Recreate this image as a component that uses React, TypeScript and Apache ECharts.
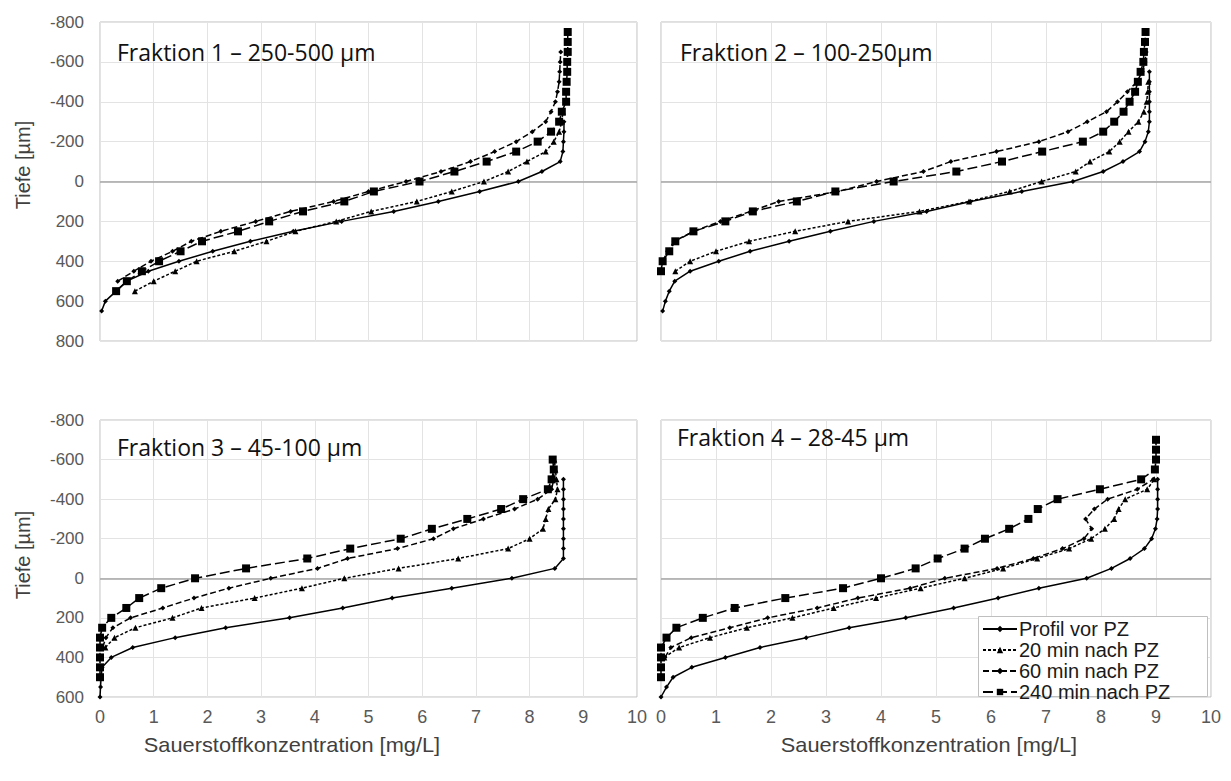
import React, { useEffect, useRef } from "react";
import * as echarts from "echarts";

// ---------- data: [Sauerstoffkonzentration mg/L, Tiefe µm] ----------
const seriesNames = ["Profil vor PZ", "20 min nach PZ", "60 min nach PZ", "240 min nach PZ"];
const panelTitles = ["Fraktion 1 – 250-500 µm", "Fraktion 2 – 100-250µm", "Fraktion 3 – 45-100 µm", "Fraktion 4 – 28-45 µm"];
const xTitle = "Sauerstoffkonzentration [mg/L]";
const yTitle = "Tiefe [µm]";

const f1Profil = [[0.03,650],[0.1,600],[0.3,550],[0.5,500],[0.9,450],[1.47,400],[2.1,350],[2.8,300],[3.6,250],[4.5,200],[5.47,150],[6.3,100],[7.07,50],[7.79,0],[8.23,-50],[8.57,-100],[8.62,-150],[8.63,-200],[8.64,-250],[8.64,-300]];
const f1Min20 = [[0.65,550],[1.0,500],[1.4,450],[1.8,400],[2.5,350],[3.1,300],[3.64,250],[4.4,200],[5.05,150],[5.9,100],[6.55,50],[7.15,0],[7.6,-50],[7.95,-100],[8.3,-150],[8.45,-200],[8.55,-250],[8.6,-300],[8.62,-350]];
const f1Min60 = [[0.33,500],[0.63,450],[0.95,400],[1.35,350],[1.7,300],[2.25,250],[2.9,200],[3.55,150],[4.35,100],[5.0,50],[5.7,0],[6.35,-50],[6.9,-100],[7.35,-150],[7.75,-200],[8.05,-250],[8.3,-300],[8.4,-350],[8.48,-400],[8.52,-450],[8.55,-500],[8.56,-550],[8.57,-600],[8.58,-650]];
const f1Min240 = [[0.3,550],[0.5,500],[0.78,450],[1.1,400],[1.5,350],[1.9,300],[2.57,250],[3.15,200],[3.78,150],[4.55,100],[5.1,50],[5.95,0],[6.6,-50],[7.2,-100],[7.75,-150],[8.15,-200],[8.4,-250],[8.55,-300],[8.6,-350],[8.68,-400],[8.68,-450],[8.69,-500],[8.7,-550],[8.7,-600],[8.71,-650],[8.71,-700],[8.71,-750]];

const f2Profil = [[0.03,650],[0.08,600],[0.15,550],[0.25,500],[0.53,450],[1.05,400],[1.62,350],[2.33,300],[3.08,250],[3.87,200],[4.83,150],[5.63,100],[6.56,50],[7.49,0],[8.04,-50],[8.4,-100],[8.7,-150],[8.8,-200],[8.86,-250],[8.88,-300],[8.88,-350],[8.88,-400],[8.88,-450],[8.88,-500],[8.88,-550]];
const f2Min20 = [[0.26,450],[0.53,400],[1.0,350],[1.6,300],[2.44,250],[3.4,200],[4.7,150],[5.6,100],[6.34,50],[6.92,0],[7.54,-50],[7.8,-100],[8.15,-150],[8.34,-200],[8.5,-250],[8.68,-300],[8.78,-350],[8.83,-400],[8.85,-450],[8.86,-500]];
const f2Min60 = [[0.03,400],[0.12,350],[0.24,300],[0.59,250],[1.08,200],[1.63,150],[2.14,100],[3.21,50],[3.92,0],[4.77,-50],[5.27,-100],[6.1,-150],[6.87,-200],[7.4,-250],[7.75,-300],[8.1,-350],[8.3,-400],[8.48,-450],[8.65,-500],[8.75,-550],[8.8,-600],[8.82,-650]];
const f2Min240 = [[0,450],[0.03,400],[0.15,350],[0.26,300],[0.59,250],[1.17,200],[1.67,150],[2.47,100],[3.17,50],[4.23,0],[5.37,-50],[6.2,-100],[6.93,-150],[7.67,-200],[8.04,-250],[8.24,-300],[8.41,-350],[8.52,-400],[8.62,-450],[8.67,-500],[8.72,-550],[8.77,-600],[8.78,-650],[8.8,-700],[8.81,-750]];

const f3Profil = [[0,600],[0.01,550],[0.02,500],[0.04,450],[0.21,400],[0.61,350],[1.4,300],[2.34,250],[3.53,200],[4.52,150],[5.44,100],[6.55,50],[7.67,0],[8.47,-50],[8.63,-100],[8.63,-150],[8.63,-200],[8.63,-250],[8.63,-300],[8.63,-350],[8.63,-400],[8.63,-450],[8.63,-500]];
const f3Min20 = [[0.1,350],[0.27,300],[0.66,250],[1.35,200],[1.89,150],[2.88,100],[3.76,50],[4.55,0],[5.56,-50],[6.67,-100],[7.6,-150],[8.0,-200],[8.25,-250],[8.3,-300],[8.35,-350],[8.48,-400],[8.52,-450],[8.5,-500],[8.48,-550],[8.46,-600]];
const f3Min60 = [[0.05,350],[0.11,300],[0.24,250],[0.57,200],[1.17,150],[1.75,100],[2.4,50],[3.18,0],[4.05,-50],[4.61,-100],[5.54,-150],[6.21,-200],[6.58,-250],[7.14,-300],[7.72,-350],[8.15,-400],[8.41,-450],[8.45,-500],[8.45,-550],[8.44,-600]];
const f3Min240 = [[0,500],[0,450],[0,400],[0,350],[0,300],[0.04,250],[0.21,200],[0.49,150],[0.73,100],[1.14,50],[1.77,0],[2.72,-50],[3.86,-100],[4.66,-150],[5.6,-200],[6.18,-250],[6.84,-300],[7.47,-350],[7.88,-400],[8.34,-450],[8.41,-500],[8.45,-550],[8.43,-600]];

const f4Profil = [[0,600],[0.1,550],[0.22,500],[0.56,450],[1.17,400],[1.8,350],[2.64,300],[3.42,250],[4.45,200],[5.32,150],[6.13,100],[6.87,50],[7.74,0],[8.19,-50],[8.53,-100],[8.79,-150],[8.92,-200],[8.99,-250],[9.02,-300],[9.03,-350],[9.03,-400],[9.03,-450],[9.03,-500]];
const f4Min20 = [[0.06,400],[0.33,350],[0.89,300],[1.56,250],[2.39,200],[3.14,150],[3.91,100],[4.72,50],[5.52,0],[6.22,-50],[6.84,-100],[7.42,-150],[7.82,-200],[8.07,-250],[8.24,-300],[8.32,-350],[8.44,-400],[8.84,-450],[8.97,-500]];
const f4Min60 = [[0.07,400],[0.18,350],[0.55,300],[1.25,250],[1.94,200],[2.84,150],[3.58,100],[4.53,50],[5.16,0],[6.11,-50],[6.77,-100],[7.3,-150],[7.69,-200],[7.83,-250],[7.72,-300],[7.88,-350],[8.12,-400],[8.66,-450],[8.95,-500]];
const f4Min240 = [[0,500],[0,450],[0,400],[0,350],[0.1,300],[0.28,250],[0.76,200],[1.34,150],[2.26,100],[3.31,50],[4.0,0],[4.63,-50],[5.03,-100],[5.52,-150],[5.89,-200],[6.33,-250],[6.68,-300],[6.85,-350],[7.21,-400],[7.98,-450],[8.73,-500],[8.98,-550],[9.0,-600],[9.0,-650],[9.0,-700]];

const panels = [
  [f1Profil, f1Min20, f1Min60, f1Min240],
  [f2Profil, f2Min20, f2Min60, f2Min240],
  [f3Profil, f3Min20, f3Min60, f3Min240],
  [f4Profil, f4Min20, f4Min60, f4Min240],
];
const yMaxTop = 800;
const yMaxBottom = 600;

// ---------- styles ----------
const AX = "'Liberation Sans', Arial, sans-serif";
const TF = "'Open Sans', sans-serif";
const styles = [
  { type: "solid", symbol: "diamond", size: 5 },
  { type: [3, 2], symbol: "triangle", size: 6 },
  { type: [6, 3], symbol: "diamond", size: 5 },
  { type: [10, 4], symbol: "rect", size: 8 },
];

const grids = [
  { left: 100, top: 22, width: 537, height: 319 },
  { left: 661, top: 22, width: 550, height: 319 },
  { left: 100, top: 420, width: 537, height: 277 },
  { left: 661, top: 420, width: 550, height: 277 },
];
const titlePos = [
  [117, 52],
  [680, 52],
  [117, 447],
  [677, 437],
];

export default function App() {
  const ref = useRef<HTMLDivElement>(null);
  useEffect(() => {
    document.body.style.margin = "0";
    const chart = echarts.init(ref.current!, null, { renderer: "svg" });
    const series: any[] = [];
    panels.forEach((p, gi) => {
      p.forEach((data, si) => {
        const st = styles[si];
        const s: any = {
          name: seriesNames[si],
          type: "line",
          xAxisIndex: gi,
          yAxisIndex: gi,
          data,
          symbol: st.symbol,
          symbolSize: st.size,
          showSymbol: true,
          smooth: false,
          itemStyle: { color: "#000" },
          lineStyle: { color: "#000", width: 1.5, type: st.type },
          z: 3 + si,
        };
        if (si === 0) {
          s.markLine = {
            silent: true,
            symbol: "none",
            label: { show: false },
            lineStyle: { color: "#a6a6a6", width: 1.5, type: "solid" },
            data: [{ yAxis: 0 }],
            z: 1,
          };
        }
        series.push(s);
      });
    });

    const axisTitle = (text: string, x: number, y: number, vertical: boolean) => ({
      type: "text",
      x,
      y,
      rotation: vertical ? Math.PI / 2 : 0,
      scaleX: vertical ? 1 : 1.09,
      style: { text, font: `20px ${AX}`, fill: "#404040", align: "center", verticalAlign: "middle" },
    });

    const option: any = {
      animation: false,
      backgroundColor: "#fff",
      grid: grids.map((g) => ({ ...g, show: true, borderColor: "#bfbfbf", borderWidth: 1, backgroundColor: "#fff" })),
      xAxis: grids.map((_, i) => ({
        type: "value",
        gridIndex: i,
        min: 0,
        max: 10,
        interval: 1,
        axisLine: { show: false },
        axisTick: { show: false },
        splitLine: { show: true, lineStyle: { color: "#e3e3e3", width: 1 } },
        axisLabel: { show: i >= 2, color: "#595959", fontSize: 18, fontFamily: AX, margin: 11 },
      })),
      yAxis: grids.map((_, i) => ({
        type: "value",
        gridIndex: i,
        inverse: true,
        min: -800,
        max: i < 2 ? yMaxTop : yMaxBottom,
        interval: 200,
        axisLine: { show: false },
        axisTick: { show: false },
        splitLine: { show: true, lineStyle: { color: "#e3e3e3", width: 1 } },
        axisLabel: { show: i % 2 === 0, color: "#595959", fontSize: 17, fontFamily: AX, margin: 16 },
      })),
      legend: {
        data: seriesNames,
        orient: "vertical",
        left: 982,
        top: 619,
        z: 30,
        padding: 0,
        itemGap: 1,
        itemWidth: 34,
        itemHeight: 8,
        textStyle: { fontSize: 20, lineHeight: 18.5, fontFamily: AX, color: "#1a1a1a", padding: [0, 0, 0, -3] },
      },
      series,
      graphic: [
        {
          type: "rect",
          x: 978.5,
          y: 616.5,
          z: 25,
          shape: { x: 0, y: 0, width: 229, height: 80 },
          style: { fill: "#fff", stroke: "#bfbfbf", lineWidth: 1 },
        },
        ...panelTitles.map((t, i) => ({
          type: "text",
          x: titlePos[i][0],
          y: titlePos[i][1],
          style: { text: t, font: `23px ${TF}`, fill: "#111", verticalAlign: "middle" },
          z: 20,
        })),
        axisTitle(yTitle, 23, 165, true),
        axisTitle(yTitle, 23, 555, true),
        axisTitle(xTitle, 292, 745, false),
        axisTitle(xTitle, 929, 745, false),
      ],
    };
    chart.setOption(option);
    return () => chart.dispose();
  }, []);
  return <div ref={ref} style={{ width: 1231, height: 781 }} />;
}
